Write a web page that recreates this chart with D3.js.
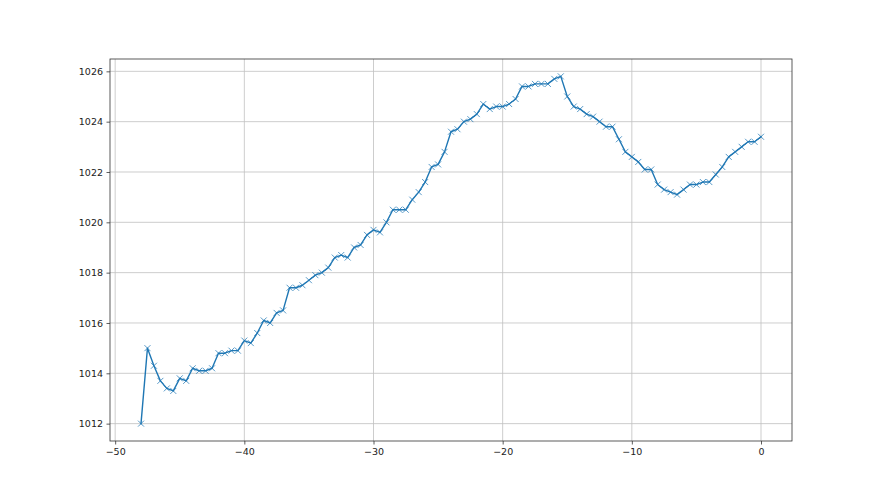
<!DOCTYPE html>
<html>
<head>
<meta charset="utf-8">
<script src="https://cdn.jsdelivr.net/npm/d3@7"></script>
<style>
  body { margin: 0; background: #fff; }
  svg text { font-family: "DejaVu Sans", sans-serif; }
</style>
</head>
<body>
<div id="chart"></div>
<script>
// Pressure series, one reading every half unit from -48 to 0
const xValues = [
  -48, -47.5, -47, -46.5, -46, -45.5, -45, -44.5, -44, -43.5, -43, -42.5,
  -42, -41.5, -41, -40.5, -40, -39.5, -39, -38.5, -38, -37.5, -37, -36.5,
  -36, -35.5, -35, -34.5, -34, -33.5, -33, -32.5, -32, -31.5, -31, -30.5,
  -30, -29.5, -29, -28.5, -28, -27.5, -27, -26.5, -26, -25.5, -25, -24.5,
  -24, -23.5, -23, -22.5, -22, -21.5, -21, -20.5, -20, -19.5, -19, -18.5,
  -18, -17.5, -17, -16.5, -16, -15.5, -15, -14.5, -14, -13.5, -13, -12.5,
  -12, -11.5, -11, -10.5, -10, -9.5, -9, -8.5, -8, -7.5, -7, -6.5,
  -6, -5.5, -5, -4.5, -4, -3.5, -3, -2.5, -2, -1.5, -1, -0.5, 0
];
const pressure = [
  1012.0, 1015.0, 1014.3, 1013.7, 1013.4, 1013.3, 1013.8, 1013.7, 1014.2, 1014.1, 1014.1, 1014.2,
  1014.8, 1014.8, 1014.9, 1014.9, 1015.3, 1015.2, 1015.6, 1016.1, 1016.0, 1016.4, 1016.5, 1017.4,
  1017.4, 1017.5, 1017.7, 1017.9, 1018.0, 1018.2, 1018.6, 1018.7, 1018.6, 1019.0, 1019.1, 1019.5,
  1019.7, 1019.6, 1020.0, 1020.5, 1020.5, 1020.5, 1020.9, 1021.2, 1021.6, 1022.2, 1022.3, 1022.8,
  1023.6, 1023.7, 1024.0, 1024.1, 1024.3, 1024.7, 1024.5, 1024.6, 1024.6, 1024.7, 1024.9, 1025.4,
  1025.4, 1025.5, 1025.5, 1025.5, 1025.7, 1025.8, 1025.0, 1024.6, 1024.5, 1024.3, 1024.2, 1024.0,
  1023.8, 1023.8, 1023.3, 1022.8, 1022.6, 1022.4, 1022.1, 1022.1, 1021.5, 1021.3, 1021.2, 1021.1,
  1021.3, 1021.5, 1021.5, 1021.6, 1021.6, 1021.9, 1022.2, 1022.6, 1022.8, 1023.0, 1023.2, 1023.2, 1023.4
];
const xTicks = [-50, -40, -30, -20, -10, 0];
const yTicks = [1012, 1014, 1016, 1018, 1020, 1022, 1024, 1026];

const width = 880, height = 495;
const margin = {top: 59, right: 88, bottom: 54, left: 110};
const blue = "#1f77b4";

const svg = d3.select("#chart").append("svg")
  .attr("width", width)
  .attr("height", height);

// matplotlib style 5% padding around the data
const xPad = (d3.max(xValues) - d3.min(xValues)) * 0.05;
const yPad = (d3.max(pressure) - d3.min(pressure)) * 0.05;

const x = d3.scaleLinear()
  .domain([d3.min(xValues) - xPad, d3.max(xValues) + xPad])
  .range([margin.left, width - margin.right]);
const y = d3.scaleLinear()
  .domain([d3.min(pressure) - yPad, d3.max(pressure) + yPad])
  .range([height - margin.bottom, margin.top]);

const fmt = d => String(d).replace("-", "\u2212");

// gridlines
svg.append("g")
  .attr("class", "grid")
  .selectAll("line.gx")
  .data(xTicks)
  .enter().append("line")
  .attr("x1", d => x(d)).attr("x2", d => x(d))
  .attr("y1", margin.top).attr("y2", height - margin.bottom)
  .attr("stroke", "#c0c0c0").attr("stroke-width", 0.8);

svg.append("g")
  .attr("class", "grid")
  .selectAll("line.gy")
  .data(yTicks)
  .enter().append("line")
  .attr("x1", margin.left).attr("x2", width - margin.right)
  .attr("y1", d => y(d)).attr("y2", d => y(d))
  .attr("stroke", "#c0c0c0").attr("stroke-width", 0.8);

// axes
const xAxis = svg.append("g")
  .attr("transform", "translate(0," + (height - margin.bottom) + ")")
  .call(d3.axisBottom(x).tickValues(xTicks).tickSize(3.5).tickPadding(3.5).tickFormat(fmt));
const yAxis = svg.append("g")
  .attr("transform", "translate(" + margin.left + ",0)")
  .call(d3.axisLeft(y).tickValues(yTicks).tickSize(3.5).tickPadding(3.5).tickFormat(fmt));

[xAxis, yAxis].forEach(a => {
  a.select(".domain").remove();
  a.selectAll(".tick line").attr("stroke", "#333").attr("stroke-width", 0.8);
  a.selectAll(".tick text").attr("fill", "#222").style("font-size", "9.5px");
});

// line
const line = d3.line()
  .x((d, i) => x(xValues[i]))
  .y(d => y(d));

svg.append("path")
  .datum(pressure)
  .attr("d", line)
  .attr("fill", "none")
  .attr("stroke", blue)
  .attr("stroke-width", 1.4)
  .attr("stroke-linejoin", "round")
  .attr("stroke-linecap", "square");

// x markers
const m = 3;
svg.append("g")
  .selectAll("path")
  .data(pressure)
  .enter().append("path")
  .attr("transform", (d, i) => "translate(" + x(xValues[i]) + "," + y(d) + ")")
  .attr("d", "M" + (-m) + "," + (-m) + "L" + m + "," + m + "M" + (-m) + "," + m + "L" + m + "," + (-m))
  .attr("stroke", blue)
  .attr("stroke-opacity", 0.75)
  .attr("stroke-width", 1)
  .attr("fill", "none");

// frame
svg.append("rect")
  .attr("x", margin.left).attr("y", margin.top)
  .attr("width", width - margin.left - margin.right)
  .attr("height", height - margin.top - margin.bottom)
  .attr("fill", "none")
  .attr("stroke", "#333")
  .attr("stroke-width", 0.8);
</script>
</body>
</html>
